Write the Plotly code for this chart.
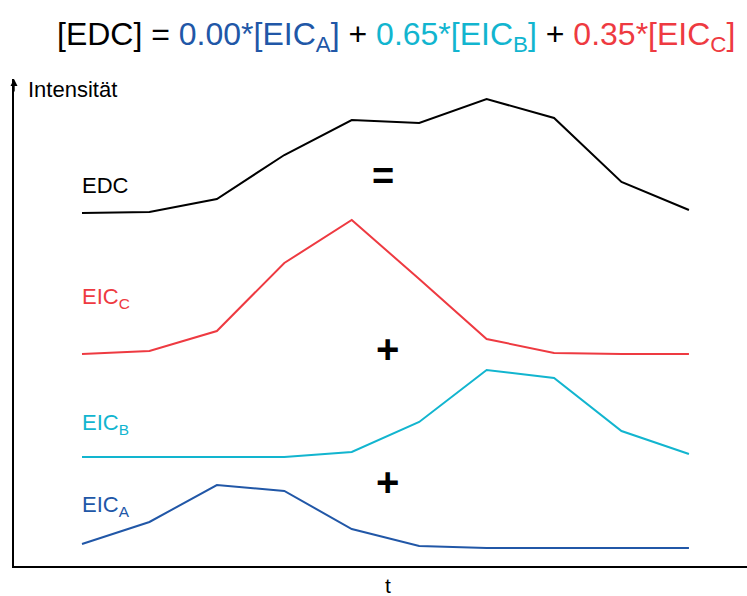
import plotly.graph_objects as go

# ---- data (arbitrary intensity units) ----
t = [1, 2, 3, 4, 5, 6, 7, 8, 9, 10]
edc = [353, 354, 367, 411, 446, 443, 467, 448, 384, 356]
eic_c = [212, 215, 235, 303, 346, 287, 227, 213, 212, 212]
eic_b = [109, 109, 109, 109, 114, 144, 196, 188, 135, 112]
eic_a = [22, 44, 81, 75, 37, 20, 18, 18, 18, 18]

series_names = ["EDC", "EIC<sub>C</sub>", "EIC<sub>B</sub>", "EIC<sub>A</sub>"]
series_values = [edc, eic_c, eic_b, eic_a]
label_y = [381, 268, 142, 60]

BLACK = "#000000"
RED = "#ee3a41"
CYAN = "#12b5cf"
BLUE = "#2157a7"
colors = [BLACK, RED, CYAN, BLUE]

W, H = 747, 596
ML, MR, MT, MB = 14, 0, 79, 30
FONT = "Liberation Sans, Arial, sans-serif"

fig = go.Figure()
for name, vals, col in zip(series_names, series_values, colors):
    fig.add_trace(go.Scatter(x=t, y=vals, mode="lines", name=name,
                             line=dict(color=col, width=2), showlegend=False,
                             hoverinfo="skip"))

def px_to_paper(px, py):
    return (px - ML) / (W - ML - MR), (H - MB - py) / (H - MT - MB)

ann = []
for name, ly, col in zip(series_names, label_y, colors):
    ann.append(dict(x=1, y=ly, xref="x", yref="y", text=name, showarrow=False,
                    xanchor="left", yanchor="middle", xshift=-2,
                    font=dict(family=FONT, size=22, color=col)))

# operators between curves
for sym, (px, py), sz in [("=", (383, 176), 38), ("+", (387, 349), 40), ("+", (387, 482), 40)]:
    x, y = px_to_paper(px, py)
    ann.append(dict(x=x, y=y, xref="paper", yref="paper", text="<b>%s</b>" % sym,
                    showarrow=False, xanchor="center", yanchor="middle",
                    font=dict(family=FONT, size=sz, color=BLACK)))

# axis labels
x, y = px_to_paper(26, 90)
ann.append(dict(x=x, y=y, xref="paper", yref="paper", text="Intensität",
                showarrow=False, xanchor="left", yanchor="middle",
                font=dict(family=FONT, size=22, color=BLACK)))
x, y = px_to_paper(388, 585)
ann.append(dict(x=x, y=y, xref="paper", yref="paper", text="t",
                showarrow=False, xanchor="center", yanchor="middle",
                font=dict(family=FONT, size=21, color=BLACK)))

# arrow head on y axis
ann.append(dict(x=0, y=1, xref="paper", yref="paper", text="", showarrow=True,
                ax=0, ay=14, arrowhead=2, arrowsize=1, arrowwidth=1.4,
                arrowcolor=BLACK))

# title
title_txt = ("[EDC] = <span style='color:%s'>0.00*[EIC<sub>A</sub>]</span> + "
             "<span style='color:%s'>0.65*[EIC<sub>B</sub>]</span> + "
             "<span style='color:%s'>0.35*[EIC<sub>C</sub>]</span>") % (BLUE, CYAN, RED)
x, y = px_to_paper(396, 37)
ann.append(dict(x=x, y=y, xref="paper", yref="paper", text=title_txt,
                showarrow=False, xanchor="center", yanchor="middle",
                font=dict(family=FONT, size=32, color=BLACK)))

fig.update_layout(
    width=W, height=H,
    margin=dict(l=ML, r=MR, t=MT, b=MB),
    paper_bgcolor="white", plot_bgcolor="white",
    annotations=ann,
    xaxis=dict(range=[-0.0083, 10.861], showline=True, linecolor=BLACK, linewidth=1.5,
               showgrid=False, zeroline=False, showticklabels=False, ticks="",
               fixedrange=True),
    yaxis=dict(range=[0, H - MT - MB], showline=True, linecolor=BLACK, linewidth=1.5,
               showgrid=False, zeroline=False, showticklabels=False, ticks="",
               fixedrange=True),
)

fig.write_html("out.html", config={"displayModeBar": False})
